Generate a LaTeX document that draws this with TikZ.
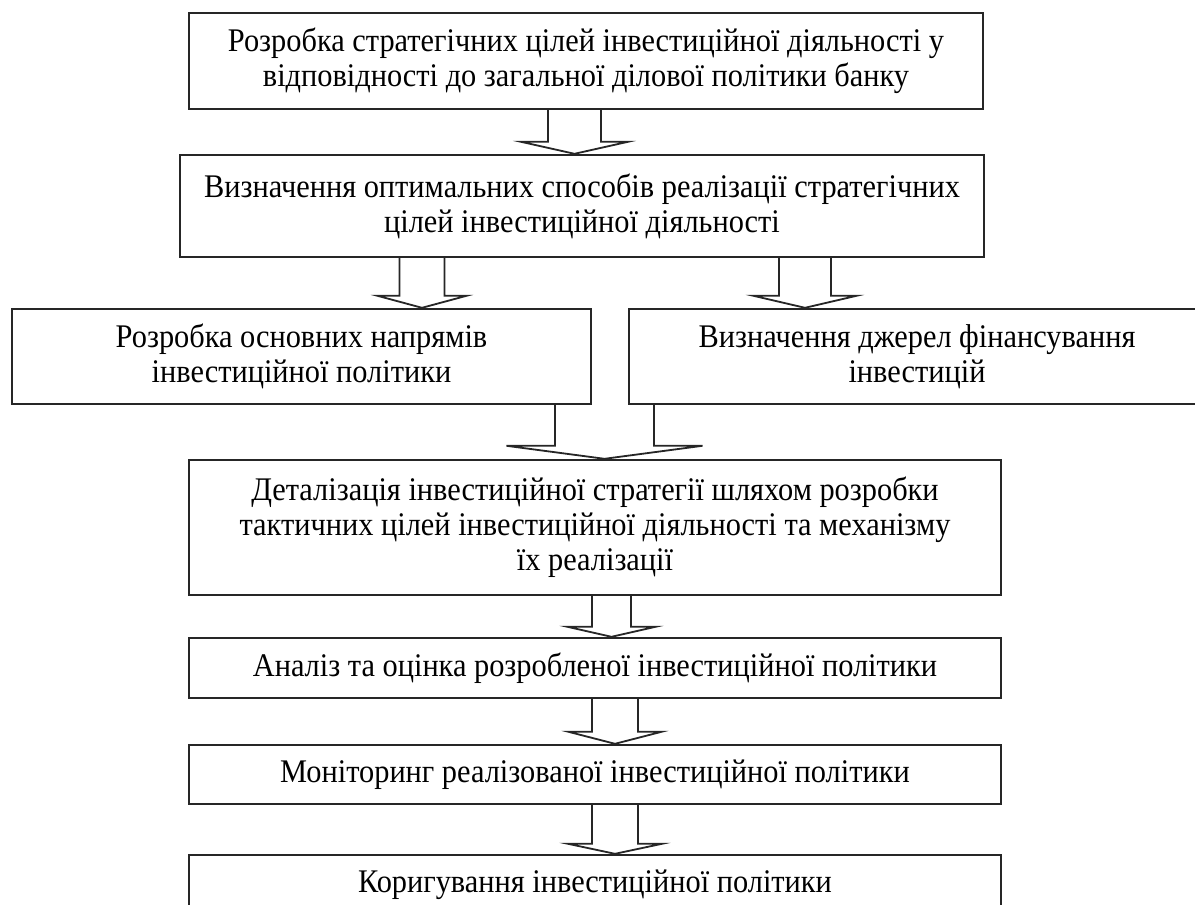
\documentclass[tikz,border=0pt]{standalone}
\usepackage{fontspec}
\setmainfont[FakeStretch=0.92]{Liberation Serif}
\usetikzlibrary{calc}
\tikzset{
  box/.style={draw=black!85, line width=1.2pt, fill=white, align=center, inner sep=0pt,
    font=\fontsize{16.5}{17.5}\selectfont},
  arrline/.style={draw=black!85, line width=0.9pt, fill=white, line join=miter},
}
\newcommand\blockarr[6]{%
  \coordinate (ht) at ([yshift=#6]#2.north);
  \draw[arrline] (#3-#4,0 |- #1.south) -- (#3-#4,0 |- ht) -- (#3-#5,0 |- ht)
    -- (#3,0 |- #2.north) -- (#3+#5,0 |- ht) -- (#3+#4,0 |- ht) -- (#3+#4,0 |- #1.south);}
\begin{document}
\begin{tikzpicture}[x=0.5pt,y=-0.5pt]
\useasboundingbox (0,0) rectangle (1195,905);
\clip (0,0) rectangle (1195,905);
\node[box, minimum width=397pt, minimum height=48pt] (b1) at (586,61)
  {Розробка стратегічних цілей інвестиційної діяльності у\\відповідності до загальної ділової політики банку};
\node[box, minimum width=402pt, minimum height=51pt] (b2) at (582,206)
  {Визначення оптимальних способів реалізації стратегічних\\цілей інвестиційної діяльності};
\node[box, minimum width=289.5pt, minimum height=47.5pt] (b3) at (301.5,356.5)
  {Розробка основних напрямів\\інвестиційної політики};
\node[box, minimum width=288pt, minimum height=47.5pt] (b4) at (917,356.5)
  {Визначення джерел фінансування\\інвестицій};
\node[box, minimum width=406pt, minimum height=67.5pt] (b5) at (595,527.5)
  {Деталізація інвестиційної стратегії шляхом розробки\\тактичних цілей інвестиційної діяльності та механізму\\їх реалізації};
\node[box, minimum width=406pt, minimum height=30pt] (b6) at (595,668)
  {Аналіз та оцінка розробленої інвестиційної політики};
\node[box, minimum width=406pt, minimum height=29.5pt] (b7) at (595,774.5)
  {Моніторинг реалізованої інвестиційної політики};
\node[box, minimum width=406pt, minimum height=30pt] (b8) at (595,885)
  {Коригування інвестиційної політики};
\blockarr{b1}{b2}{574.5}{26.5}{53.5}{6pt}
\blockarr{b2}{b3}{422}{22.5}{44.5}{6pt}
\blockarr{b2}{b4}{805}{26}{51.5}{6pt}
\blockarr{b3}{b5}{604.5}{49.5}{98}{6.5pt}
\blockarr{b5}{b6}{611.5}{19.5}{44}{5pt}
\blockarr{b6}{b7}{615}{23}{46.5}{6pt}
\blockarr{b7}{b8}{615}{23}{47}{5pt}
\end{tikzpicture}
\end{document}
